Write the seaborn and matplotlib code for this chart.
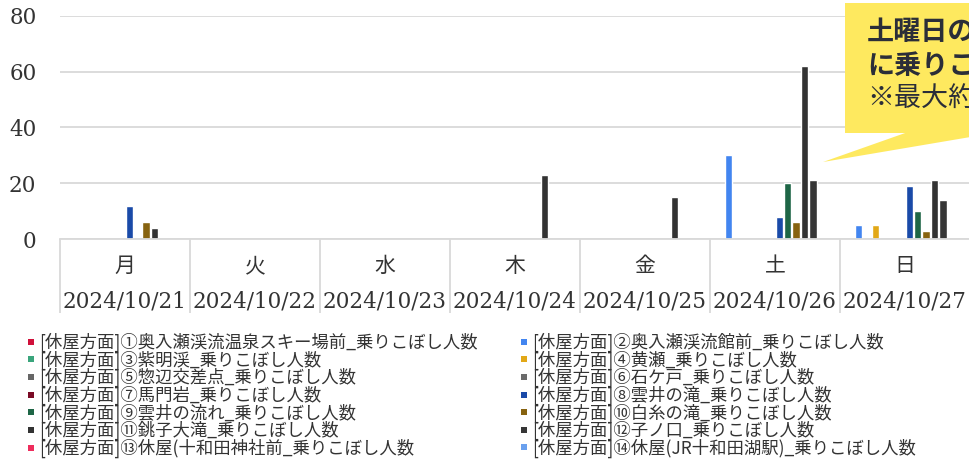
import matplotlib
matplotlib.use("Agg")
import matplotlib.pyplot as plt
import matplotlib.patches as mpatches
import matplotlib.transforms as mtransforms
from matplotlib.lines import Line2D
import pandas as pd
import seaborn as sns

# categories (x axis)
days = ["月", "火", "水", "木", "金", "土", "日"]
dates = ["2024/10/21", "2024/10/22", "2024/10/23", "2024/10/24",
         "2024/10/25", "2024/10/26", "2024/10/27"]

# series: bus stops
stops = [
    "[休屋方面]①奥入瀬渓流温泉スキー場前_乗りこぼし人数",
    "[休屋方面]②奥入瀬渓流館前_乗りこぼし人数",
    "[休屋方面]③紫明渓_乗りこぼし人数",
    "[休屋方面]④黄瀬_乗りこぼし人数",
    "[休屋方面]⑤惣辺交差点_乗りこぼし人数",
    "[休屋方面]⑥石ケ戸_乗りこぼし人数",
    "[休屋方面]⑦馬門岩_乗りこぼし人数",
    "[休屋方面]⑧雲井の滝_乗りこぼし人数",
    "[休屋方面]⑨雲井の流れ_乗りこぼし人数",
    "[休屋方面]⑩白糸の滝_乗りこぼし人数",
    "[休屋方面]⑪銚子大滝_乗りこぼし人数",
    "[休屋方面]⑫子ノ口_乗りこぼし人数",
    "[休屋方面]⑬休屋(十和田神社前_乗りこぼし人数",
    "[休屋方面]⑭休屋(JR十和田湖駅)_乗りこぼし人数",
]
stop_colors = ["#d0103a", "#4285f0", "#3aa57c", "#e2a817", "#666666", "#6b6b6b",
               "#7a0a25", "#1a4aa8", "#1e6646", "#876310", "#333333", "#363636",
               "#ee2d5c", "#6aa0ee"]

# passengers left behind, one row per stop, Mon..Sun
left_behind = [
    [0, 0, 0, 0, 0, 0, 0],     # ①
    [0, 0, 0, 0, 0, 30, 5],    # ②
    [0, 0, 0, 0, 0, 0, 0],     # ③
    [0, 0, 0, 0, 0, 0, 5],     # ④
    [0, 0, 0, 0, 0, 0, 0],     # ⑤
    [0, 0, 0, 0, 0, 0, 0],     # ⑥
    [0, 0, 0, 0, 0, 0, 0],     # ⑦
    [12, 0, 0, 0, 0, 8, 19],   # ⑧
    [0, 0, 0, 0, 0, 20, 10],   # ⑨
    [6, 0, 0, 0, 0, 6, 3],     # ⑩
    [4, 0, 0, 23, 15, 62, 21], # ⑪
    [0, 0, 0, 0, 0, 21, 14],   # ⑫
    [0, 0, 0, 0, 0, 0, 0],     # ⑬
    [0, 0, 0, 0, 0, 0, 0],     # ⑭
]
y_ticks = [0, 20, 40, 60, 80]

note_lines = ["土曜日の", "に乗りこ", "※最大約"]

rows = []
for stop, vals in zip(stops, left_behind):
    for day, v in zip(days, vals):
        rows.append({"day": day, "stop": stop, "count": v})
df = pd.DataFrame(rows)

sns.set_theme(style="white")
CJK = ["Noto Sans CJK JP", "DejaVu Sans"]
SERIF = ["DejaVu Serif", "Noto Sans CJK JP"]
TXT = "#333333"
GRID = "#d9d9d9"

W, H = 969, 473
fig = plt.figure(figsize=(W / 100, H / 100), dpi=100)
ax = fig.add_axes([60 / W, 1 - 239 / H, 910 / W, 223 / H])

sns.barplot(data=df, x="day", y="count", hue="stop", order=days,
            hue_order=stops, palette=stop_colors, saturation=1,
            width=0.905, gap=0.12, ax=ax, legend=False)

ax.set_ylim(0, 80)
ax.set_xlim(-0.5, 6.5)
ax.set_yticks(y_ticks)
ax.set_yticklabels([str(t) for t in y_ticks], family=SERIF, fontsize=15.5,
                   color=TXT)
ax.tick_params(axis="y", length=0, pad=17)
ax.yaxis.grid(True, color=GRID, linewidth=1.3)
ax.set_axisbelow(True)
for s in ["top", "right", "left"]:
    ax.spines[s].set_visible(False)
ax.spines["bottom"].set_color(GRID)
ax.spines["bottom"].set_linewidth(1.3)
ax.set_xlabel("")
ax.set_ylabel("")

# two-level category axis: separators as long minor ticks
ax.set_xticks(range(len(days)))
ax.set_xticklabels([""] * len(days))
ax.tick_params(axis="x", which="major", length=0)
ax.set_xticks([i - 0.5 for i in range(len(days) + 1)], minor=True)
ax.tick_params(axis="x", which="minor", bottom=True, length=53, width=1.3,
               color=GRID, direction="out")

trans = mtransforms.blended_transform_factory(ax.transData, ax.transAxes)
for i, (d, dt) in enumerate(zip(days, dates)):
    ax.text(i, -27 / 223, d, transform=trans, ha="center", va="center",
            family=CJK, fontsize=15, color=TXT)
    ax.text(i, -63 / 223, dt, transform=trans, ha="center", va="center",
            family=SERIF, fontsize=15.5, color=TXT)

# legend: row-major order like the original (odd numbers left, even right)
handles = [Line2D([], [], linestyle="none", marker="s", markersize=5,
                  markerfacecolor=c, markeredgewidth=0) for c in stop_colors]
order = list(range(0, 14, 2)) + list(range(1, 14, 2))
leg = fig.legend([handles[i] for i in order], [stops[i] for i in order],
                 ncol=2, loc="upper left", bbox_to_anchor=(18 / W, 1 - 324 / H),
                 frameon=False, prop={"family": CJK, "size": 12.5},
                 handlelength=0.45, handletextpad=0.25,
                 labelspacing=-0.1, columnspacing=2.45, borderpad=0)
for t in leg.get_texts():
    t.set_color(TXT)

# yellow callout (clipped by the right edge in the original)
def fx(x):
    return x / W

def fy(y):
    return 1 - y / H

callout = "#fee95f"
fig.patches.append(mpatches.Rectangle((fx(845), fy(133)), fx(200), 130 / H,
                                      transform=fig.transFigure,
                                      facecolor=callout, edgecolor="none"))
fig.patches.append(mpatches.Polygon([(fx(908), fy(132)), (fx(823), fy(162)),
                                     (fx(1000), fy(132))], closed=True,
                                    transform=fig.transFigure,
                                    facecolor=callout, edgecolor="none"))
for k, (line, yy) in enumerate(zip(note_lines, [32, 66, 98])):
    fig.text(fx(867), fy(yy), line, family=CJK, fontsize=19.5,
             fontweight="bold" if k < 2 else "normal", color="#2b2e38",
             ha="left", va="center")

fig.savefig("out.png", dpi=100)
